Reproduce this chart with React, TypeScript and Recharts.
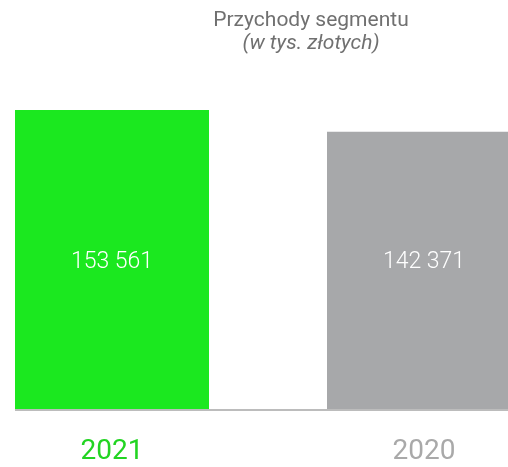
import { BarChart, Bar, XAxis, YAxis, Cell, LabelList } from 'recharts';

// segment revenue, thousands of PLN
const years = ['2021', '2020'];
const revenue = [153561, 142371];

const barColors = ['#1be81f', '#a7a8aa'];
const tickColors = ['#22d422', '#a9a9a9'];

const PLOT_H = 300;

const data = years.map((year, i) => ({ year, value: revenue[i] }));

const fmt = (v: number) => String(v).replace(/\B(?=(\d{3})+(?!\d))/g, ' ');

function YearTick(props: any) {
    const { x, y, payload, index } = props;
    return (
        <text
            x={x}
            y={y}
            dy={16}
            textAnchor="middle"
            fill={tickColors[index % tickColors.length]}
            fontSize={28}
            fontFamily="Roboto, sans-serif"
        >
            {payload.value}
        </text>
    );
}

// values sit at the middle of the plot height, not the middle of each bar
function ValueLabel(props: any) {
    const { x, y, width, height, value } = props;
    const bottom = Number(y) + Number(height);
    return (
        <text
            x={Number(x) + Number(width) / 2}
            y={bottom - PLOT_H / 2}
            dominantBaseline="central"
            textAnchor="middle"
            fill="#ffffff"
            fontSize={23}
            fontWeight={300}
            fontFamily="Roboto, sans-serif"
        >
            {fmt(Number(value))}
        </text>
    );
}

export default function App() {
    return (
        <div style={{ position: 'fixed', left: 0, top: 0, width: 508, height: 467, fontFamily: 'Roboto, sans-serif' }}>
            <div
                style={{
                    position: 'absolute',
                    left: 161,
                    top: 8,
                    width: 300,
                    textAlign: 'center',
                    fontSize: 21,
                    lineHeight: '23px',
                    color: '#707070',
                }}
            >
                <div>Przychody segmentu</div>
                <div style={{ fontStyle: 'italic' }}>(w tys. złotych)</div>
            </div>
            <div style={{ position: 'absolute', left: 15, top: 8, width: 493, height: 459, overflow: 'hidden' }}>
                <BarChart
                    width={624}
                    height={459}
                    data={data}
                    margin={{ top: 102, right: 0, bottom: 0, left: 0 }}
                    style={{ marginLeft: -59 }}
                >
                    <XAxis
                        dataKey="year"
                        height={57}
                        tickSize={0}
                        tickMargin={33}
                        tickLine={false}
                        axisLine={{ stroke: '#bcbcbc', strokeWidth: 2 }}
                        tick={<YearTick />}
                        interval={0}
                    />
                    <YAxis hide domain={[0, 'dataMax']} />
                    <Bar dataKey="value" barSize={194} isAnimationActive={false}>
                        {data.map((d, i) => (
                            <Cell key={d.year} fill={barColors[i]} />
                        ))}
                        <LabelList dataKey="value" content={<ValueLabel />} />
                    </Bar>
                </BarChart>
            </div>
        </div>
    );
}
